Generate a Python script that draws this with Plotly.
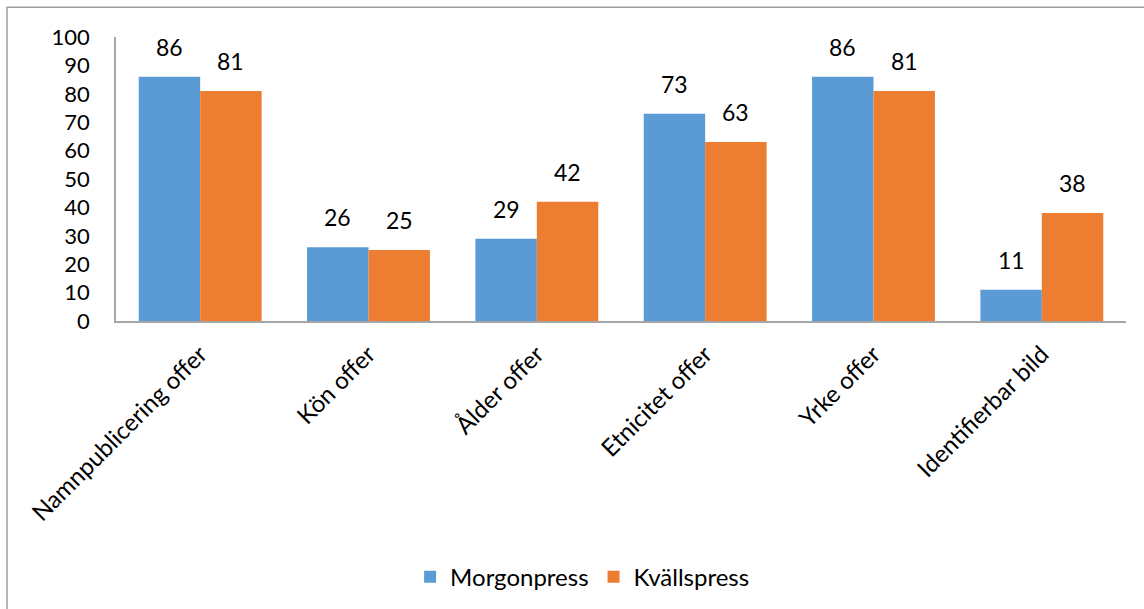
import plotly.graph_objects as go

categories = ["Namnpublicering offer", "Kön offer", "Ålder offer", "Etnicitet offer", "Yrke offer", "Identifierbar bild"]
morgonpress = [86, 26, 29, 73, 86, 11]
kvallspress = [81, 25, 42, 63, 81, 38]
series_names = ["Morgonpress", "Kvällspress"]
series_colors = ["#5B9BD5", "#ED7D31"]
y_ticks = [0, 10, 20, 30, 40, 50, 60, 70, 80, 90, 100]

FONT = "Lato"
W, H = 1144, 609
L, R, T, B = 116, 18, 37, 287
BARGAP = 0.27

fig = go.Figure()
for name, vals, col in zip(series_names, [morgonpress, kvallspress], series_colors):
    fig.add_trace(go.Bar(x=categories, y=vals, name=name, marker_color=col, marker_line_width=0))

# value labels via annotations positioned on the data scale
plot_w = W - L - R
bar_w = plot_w / len(categories) * (1 - BARGAP) / 2
annotations = []
for i, vals in enumerate([morgonpress, kvallspress]):
    shift = (-0.5 if i == 0 else 0.5) * bar_w
    for c, v in zip(categories, vals):
        annotations.append(dict(x=c, y=v, xref="x", yref="y", text=str(v), showarrow=False,
                                xshift=shift, yshift=14, yanchor="bottom",
                                font=dict(size=23, family=FONT, color="#000000")))

fig.update_layout(
    width=W, height=H,
    margin=dict(l=L, r=R, t=T, b=B),
    barmode="group", bargap=BARGAP, bargroupgap=0,
    plot_bgcolor="white", paper_bgcolor="white",
    font=dict(family=FONT, size=24, color="#000000"),
    legend=dict(orientation="h", x=0.462, xanchor="center", y=-0.895, yanchor="middle",
                font=dict(size=24, family=FONT), itemwidth=30, traceorder="normal"),
    annotations=annotations,
    shapes=[dict(type="rect", xref="paper", yref="paper", x0=-0.1079, x1=1.1, y0=-1.2, y1=1.105,
                 line=dict(color="#A0A0A0", width=1.5), fillcolor="rgba(0,0,0,0)", layer="below")],
)
fig.update_xaxes(showline=True, linecolor="#A6A6A6", linewidth=1.5, ticks="", tickangle=-45,
                 tickfont=dict(size=24, family=FONT), showgrid=False, ticklabelstandoff=8)
fig.update_yaxes(range=[0, 100], tickvals=y_ticks, showline=True, linecolor="#A6A6A6", linewidth=1.5,
                 ticks="", showgrid=False, zeroline=False, tickfont=dict(size=22, family=FONT),
                 ticklabelstandoff=20)
fig.write_html("out.html", config={"displayModeBar": False},
               post_script="document.body.style.margin='0';document.body.style.overflow='hidden';")
